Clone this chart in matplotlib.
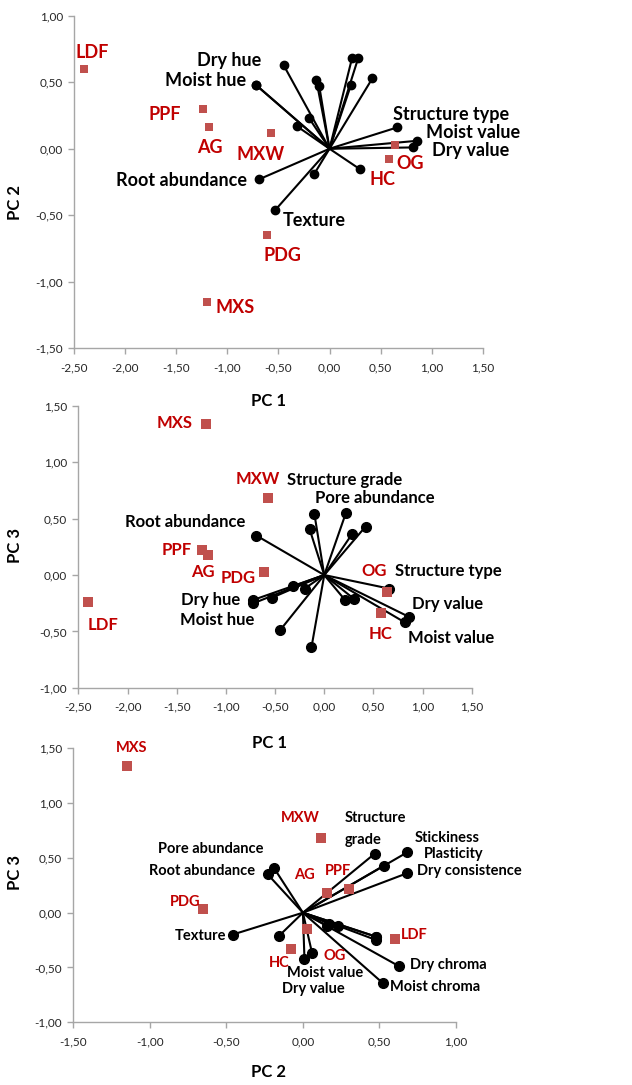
import matplotlib
matplotlib.use('Agg')

import matplotlib.pyplot as plt
from matplotlib.ticker import FuncFormatter, MultipleLocator

plt.rcParams['font.family'] = ['Lato', 'DejaVu Sans']

# Site scores on the first three principal components
SITES = ['LDF', 'PPF', 'AG', 'MXW', 'PDG', 'MXS', 'OG', 'HC']
SITE_PC1 = [-2.40, -1.24, -1.18, -0.57, -0.61, -1.20, 0.64, 0.58]
SITE_PC2 = [0.60, 0.30, 0.16, 0.115, -0.65, -1.15, 0.025, -0.075]
SITE_PC3 = [-0.24, 0.22, 0.18, 0.68, 0.03, 1.335, -0.15, -0.335]

# Variable loadings (the last four are not labelled in the figure)
VARIABLES = ['Dry hue', 'Moist hue', 'Dry value', 'Moist value', 'Dry chroma',
             'Moist chroma', 'Structure type', 'Structure grade', 'Pore abundance',
             'Root abundance', 'Texture', 'Stickiness', 'Plasticity',
             'Dry consistence', 'var 15', 'var 16', 'var 17', 'var 18']
VAR_PC1 = [-0.72, -0.72, 0.82, 0.86, -0.45, -0.13, 0.66, -0.10, -0.15,
           -0.69, -0.53, 0.22, 0.42, 0.28, -0.32, -0.20, 0.30, 0.21]
VAR_PC2 = [0.48, 0.48, 0.01, 0.06, 0.63, 0.52, 0.16, 0.47, -0.19,
           -0.23, -0.46, 0.68, 0.53, 0.68, 0.17, 0.23, -0.155, 0.48]
VAR_PC3 = [-0.22, -0.25, -0.42, -0.37, -0.49, -0.64, -0.12, 0.54, 0.41,
           0.35, -0.20, 0.55, 0.43, 0.36, -0.10, -0.12, -0.21, -0.22]

COLOR_SQUARE = '#C0504D'
COLOR_SITE_TEXT = '#C00000'
COLOR_AXIS = '#A6A6A6'
COLOR_TICK_TEXT = '#262626'

# Text annotations per panel: (text, x, y, ha)
P1_SITE_TEXT = [('LDF', -2.32, 0.72, 'center'), ('PPF', -1.61, 0.26, 'center'),
                ('AG', -1.17, 0.01, 'center'), ('MXW', -0.67, -0.04, 'center'),
                ('PDG', -0.46, -0.80, 'center'), ('MXS', -1.12, -1.19, 'left'),
                ('OG', 0.65, -0.11, 'left'), ('HC', 0.39, -0.23, 'left')]
P1_VAR_TEXT = [('Dry hue', -0.67, 0.66, 'right'), ('Moist hue', -0.82, 0.51, 'right'),
               ('Root abundance', -0.81, -0.24, 'right'), ('Texture', -0.46, -0.54, 'left'),
               ('Structure type', 0.62, 0.26, 'left'), ('Moist value', 0.94, 0.125, 'left'),
               ('Dry value', 1.00, -0.01, 'left')]

P2_SITE_TEXT = [('MXS', -1.34, 1.35, 'right'), ('MXW', -0.68, 0.85, 'center'),
                ('PPF', -1.35, 0.22, 'right'), ('AG', -1.23, 0.03, 'center'),
                ('PDG', -0.88, -0.03, 'center'), ('OG', 0.51, 0.04, 'center'),
                ('LDF', -2.25, -0.44, 'center'), ('HC', 0.57, -0.52, 'center')]
P2_VAR_TEXT = [('Structure grade', -0.375, 0.845, 'left'), ('Pore abundance', -0.09, 0.68, 'left'),
               ('Root abundance', -0.80, 0.47, 'right'), ('Structure type', 0.72, 0.04, 'left'),
               ('Dry hue', -0.85, -0.22, 'right'), ('Moist hue', -0.71, -0.40, 'right'),
               ('Dry value', 0.89, -0.26, 'left'), ('Moist value', 0.85, -0.56, 'left')]

P3_SITE_TEXT = [('MXS', -1.117, 1.50, 'center'), ('MXW', -0.015, 0.86, 'center'),
                ('AG', 0.007, 0.34, 'center'), ('PPF', 0.23, 0.38, 'center'),
                ('PDG', -0.77, 0.095, 'center'), ('LDF', 0.64, -0.20, 'left'),
                ('OG', 0.21, -0.395, 'center'), ('HC', -0.155, -0.46, 'center')]
P3_VAR_TEXT = [('Structure', 0.275, 0.86, 'left'), ('grade', 0.275, 0.66, 'left'),
               ('Stickiness', 0.73, 0.68, 'left'), ('Plasticity', 0.79, 0.535, 'left'),
               ('Dry consistence', 0.745, 0.38, 'left'), ('Pore abundance', -0.26, 0.58, 'right'),
               ('Root abundance', -0.31, 0.38, 'right'), ('Texture', -0.50, -0.21, 'right'),
               ('Moist value', 0.144, -0.55, 'center'), ('Dry value', 0.068, -0.70, 'center'),
               ('Dry chroma', 0.70, -0.48, 'left'), ('Moist chroma', 0.57, -0.68, 'left')]


def comma_fmt(v, pos):
    return f"{v:.2f}".replace('.', ',').replace('-0,00', '0,00')


def draw_biplot(ax, vx, vy, sx, sy, xlim, ylim, site_text, var_text, fs, ms_dot, ms_sq):
    # loading vectors from the origin
    for x, y in zip(vx, vy):
        ax.plot([0, x], [0, y], color='black', lw=1.5, zorder=2)
    ax.plot(vx, vy, 'o', color='black', ms=ms_dot, zorder=3)
    ax.plot(sx, sy, 's', color=COLOR_SQUARE, ms=ms_sq, mew=0, zorder=4)

    for t, x, y, ha in site_text:
        ax.text(x, y, t, color=COLOR_SITE_TEXT, fontsize=fs, fontweight='bold',
                ha=ha, va='center', zorder=5)
    for t, x, y, ha in var_text:
        ax.text(x, y, t, color='black', fontsize=fs, fontweight='bold',
                ha=ha, va='center', zorder=5)

    ax.set_xlim(*xlim)
    ax.set_ylim(*ylim)
    ax.xaxis.set_major_locator(MultipleLocator(0.5))
    ax.yaxis.set_major_locator(MultipleLocator(0.5))
    ax.xaxis.set_major_formatter(FuncFormatter(comma_fmt))
    ax.yaxis.set_major_formatter(FuncFormatter(comma_fmt))
    for side in ['top', 'right']:
        ax.spines[side].set_visible(False)
    for side in ['left', 'bottom']:
        ax.spines[side].set_color(COLOR_AXIS)
        ax.spines[side].set_linewidth(1.0)
    ax.tick_params(axis='both', direction='out', length=4, width=1.0,
                   color=COLOR_AXIS, labelsize=8.5, labelcolor=COLOR_TICK_TEXT)
    ax.tick_params(axis='x', pad=6)
    ax.tick_params(axis='y', pad=4)


fig = plt.figure(figsize=(6.32, 10.85), dpi=100)

ax1 = fig.add_axes([0.117, 0.679, 0.647, 0.3065])
draw_biplot(ax1, VAR_PC1, VAR_PC2, SITE_PC1, SITE_PC2, (-2.5, 1.5), (-1.5, 1.0),
            P1_SITE_TEXT, P1_VAR_TEXT, 13, 6, 5.8)
ax1.text(0.477, -0.16, 'PC 1', transform=ax1.transAxes, ha='center', va='center',
         fontsize=12, fontweight='bold')
ax1.text(-0.144, 0.437, 'PC 2', transform=ax1.transAxes, ha='center', va='center',
         rotation=90, fontsize=12, fontweight='bold')

ax2 = fig.add_axes([0.124, 0.366, 0.6225, 0.26])
draw_biplot(ax2, VAR_PC1, VAR_PC3, SITE_PC1, SITE_PC3, (-2.5, 1.5), (-1.0, 1.5),
            P2_SITE_TEXT, P2_VAR_TEXT, 12, 7, 7)
ax2.text(0.485, -0.196, 'PC 1', transform=ax2.transAxes, ha='center', va='center',
         fontsize=12, fontweight='bold')
ax2.text(-0.161, 0.506, 'PC 3', transform=ax2.transAxes, ha='center', va='center',
         rotation=90, fontsize=12, fontweight='bold')

ax3 = fig.add_axes([0.116, 0.0578, 0.6055, 0.2525])
draw_biplot(ax3, VAR_PC2, VAR_PC3, SITE_PC2, SITE_PC3, (-1.5, 1.0), (-1.0, 1.5),
            P3_SITE_TEXT, P3_VAR_TEXT, 10.5, 7, 7)
ax3.text(0.511, -0.18, 'PC 2', transform=ax3.transAxes, ha='center', va='center',
         fontsize=12, fontweight='bold')
ax3.text(-0.152, 0.545, 'PC 3', transform=ax3.transAxes, ha='center', va='center',
         rotation=90, fontsize=12, fontweight='bold')

fig.savefig('out.png', dpi=100, facecolor='white')
